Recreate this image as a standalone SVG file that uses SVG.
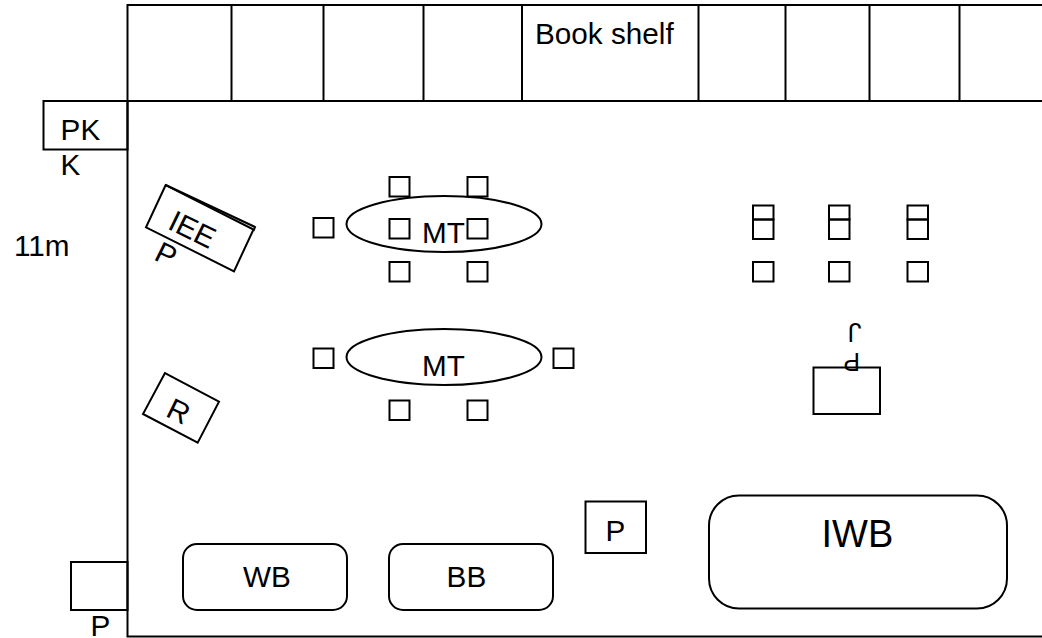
<svg xmlns="http://www.w3.org/2000/svg" width="1042" height="638" viewBox="0 0 1042 638">
<style>
.s{fill:none;stroke:#000;stroke-width:2}
text{font-family:"Liberation Sans",Arial,sans-serif;fill:#000;font-size:29.700px}
</style>
<rect width="1042" height="638" fill="#fff"/>
<g id="room" class="s">
<path d="M1042 5H127.500V636.500H1042M127.500 101H1042"/>
<path d="M231.500 5V101M323.500 5V101M423.500 5V101M522 5V101M698.500 5V101M785.500 5V101M869.500 5V101M959.500 5V101"/>
</g>
<g id="bookshelf"><text x="535" y="44">Book shelf</text></g>
<g id="pk"><rect class="s" x="43.500" y="101" width="84" height="48.500"/><text x="60.600" y="140">PK</text><text x="60.600" y="175">K</text></g>
<g id="dim"><text x="14" y="256">11m</text></g>
<g id="iee">
<path class="s" d="M165.700 185L255 227L253.500 231"/>
<path class="s" d="M165.700 185L146 227.300L234 271.300L253.500 229.500Z"/>
<text transform="translate(166.400 228.200) rotate(26)">IEE</text>
<text transform="translate(152.800 259.200) rotate(26)">P</text>
</g>
<g id="r"><path class="s" d="M165 373L143 414L197.700 442.700L219 401.700Z"/><text transform="translate(164.500 415.800) rotate(26)">R</text></g>
<g id="table1"><ellipse class="s" cx="444" cy="224" rx="97.500" ry="28"/><text x="422" y="242.500">MT</text></g>
<g id="table2"><ellipse class="s" cx="444" cy="357" rx="97.500" ry="28"/><text x="422" y="376">MT</text></g>
<g id="chairs" class="s">
<rect x="389.500" y="177" width="20" height="19.500"/><rect x="467.500" y="177" width="20" height="19.500"/>
<rect x="313.500" y="218" width="20" height="19.500"/><rect x="389.500" y="219" width="20" height="19.500"/><rect x="467.500" y="219" width="20" height="19.500"/>
<rect x="389.500" y="262" width="20" height="19.500"/><rect x="467.500" y="262" width="20" height="19.500"/>
<rect x="313.500" y="348.500" width="20" height="19.500"/><rect x="553.500" y="348.500" width="20" height="19.500"/>
<rect x="389.500" y="400.500" width="20" height="19.500"/><rect x="467.500" y="400.500" width="20" height="19.500"/>
<rect x="753" y="205.500" width="20.500" height="14"/><rect x="753" y="219.500" width="20.500" height="19.500"/>
<rect x="829" y="205.500" width="20.500" height="14"/><rect x="829" y="219.500" width="20.500" height="19.500"/>
<rect x="907.500" y="205.500" width="20.500" height="14"/><rect x="907.500" y="219.500" width="20.500" height="19.500"/>
<rect x="753" y="262" width="20.500" height="19.500"/><rect x="829" y="262" width="20.500" height="19.500"/><rect x="907.500" y="262" width="20.500" height="19.500"/>
</g>
<g id="desk"><rect class="s" x="813.500" y="367.500" width="66.500" height="46.500"/>
<text transform="translate(860 353) rotate(180)" style="font-size:25px">P</text>
<text transform="translate(861.500 323) rotate(180)" style="font-size:25px;font-family:Roboto,sans-serif">J</text></g>
<g id="wb"><rect class="s" x="183" y="544" width="164" height="66" rx="14"/><text x="243" y="587">WB</text></g>
<g id="bb"><rect class="s" x="389" y="544" width="164" height="66" rx="14"/><text x="446.600" y="587">BB</text></g>
<g id="p1"><rect class="s" x="585.500" y="501.500" width="60.500" height="51.500"/><text x="605.600" y="541">P</text></g>
<g id="iwb"><rect class="s" x="709" y="495.500" width="298" height="113" rx="30"/><text x="821.500" y="547" style="font-size:38px">IWB</text></g>
<g id="p2"><rect class="s" x="71" y="562" width="56.500" height="48"/><text x="90.600" y="635.500">P</text></g>
</svg>
